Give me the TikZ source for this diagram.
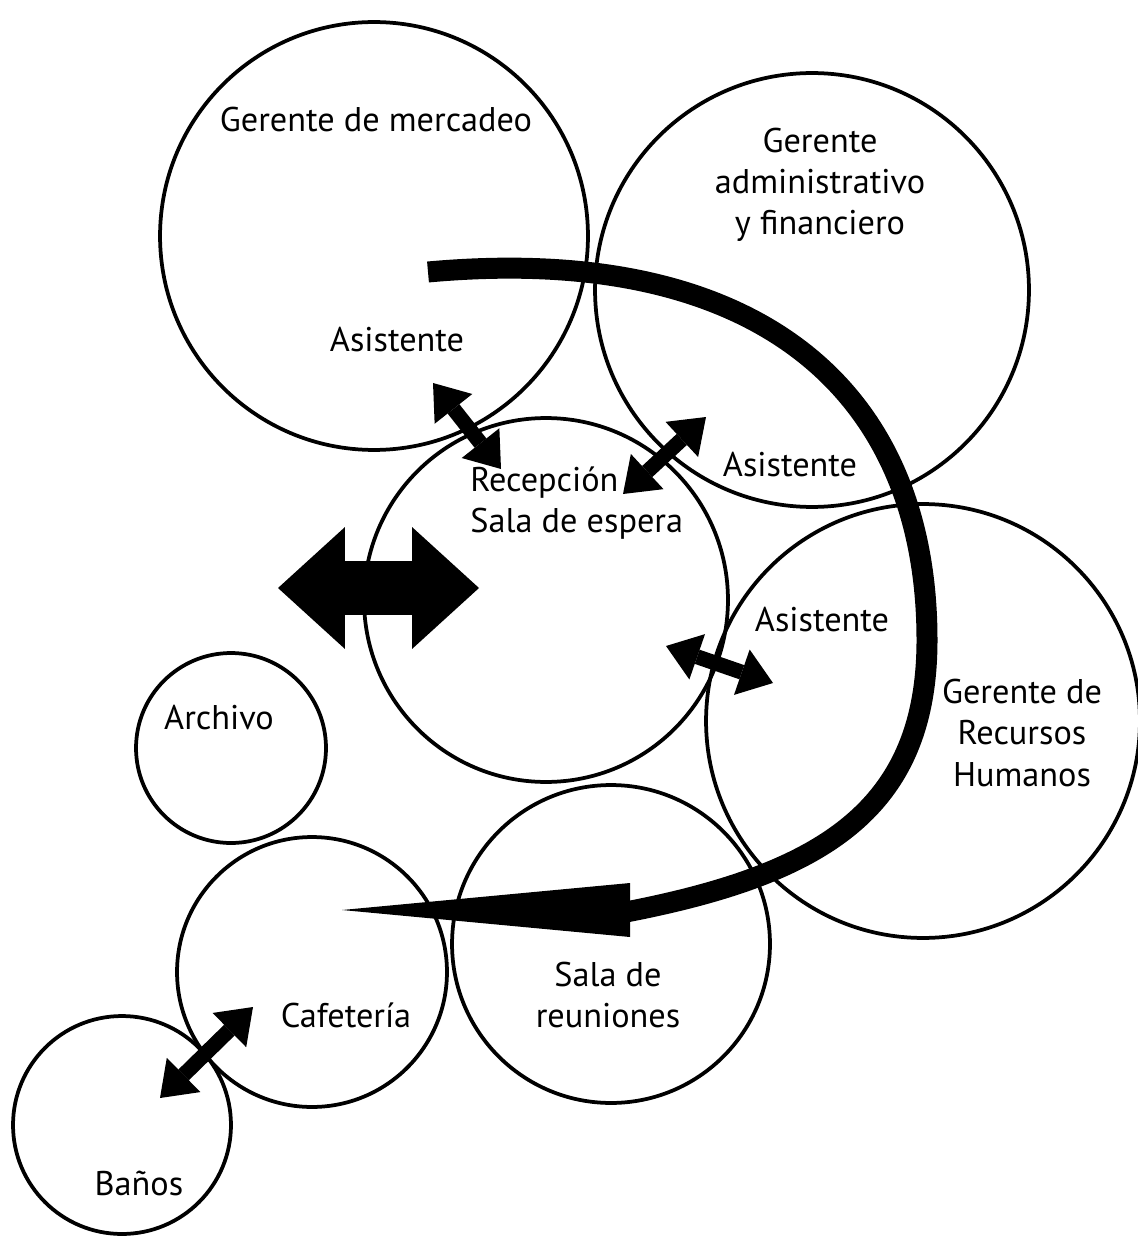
\documentclass[tikz,border=0pt]{standalone}
\usepackage{fontspec}
\setmainfont{PT Sans}
\usetikzlibrary{arrows.meta}
\tikzset{
  room/.style={draw, circle, inner sep=0pt, line width=0.075cm},
  roomtext/.style={font=\fontsize{19.5}{23.5}\selectfont, align=center, inner sep=0pt},
  link/.style={line width=0.3cm,
    {Triangle[length=0.66cm,width=0.96cm,line width=0pt]}-{Triangle[length=0.66cm,width=0.96cm,line width=0pt]}},
  biglink/.style={line width=1.1cm,
    {Triangle[length=1.34cm,width=2.44cm,line width=0pt]}-{Triangle[length=1.34cm,width=2.44cm,line width=0pt]}},
  flow/.style={line width=0.42cm}
}
\begin{document}
\begin{tikzpicture}[x=0.02cm, y=-0.02cm]
  \useasboundingbox (0,0) rectangle (1138,1236);
  \draw
    (374,236) node[room, minimum size=8.56cm] (mercadeo){}
    (812,290) node[room, minimum size=8.68cm] (admin){}
    (546,600) node[room, minimum size=7.28cm] (recepcion){}
    (923,721) node[room, minimum size=8.68cm] (rrhh){}
    (231,748) node[room, minimum size=3.8cm] (archivo){}
    (312,972) node[room, minimum size=5.4cm] (cafeteria){}
    (611,944) node[room, minimum size=6.36cm] (reuniones){}
    (122,1125) node[room, minimum size=4.36cm] (banos){};
  \draw
    (376,120) node[roomtext] (tMercadeo){Gerente de mercadeo}
    (820,185) node[roomtext] (tAdmin){Gerente\\administrativo\\y financiero}
    (397,340) node[roomtext] (tAsisMercadeo){Asistente}
    (790,465) node[roomtext] (tAsisAdmin){Asistente}
    (470,503) node[roomtext, anchor=west, align=left] (tRecepcion){Recepción\\Sala de espera}
    (822,620) node[roomtext] (tAsisRrhh){Asistente}
    (1022,733) node[roomtext] (tRrhh){Gerente de\\Recursos\\Humanos}
    (219,718) node[roomtext] (tArchivo){Archivo}
    (346,1015) node[roomtext] (tCafeteria){Cafetería}
    (608,995) node[roomtext] (tReuniones){Sala de\\reuniones}
    (139,1183) node[roomtext] (tBanos){Baños};
  \coordinate (m1) at (433,383);
  \coordinate (m2) at (501,469);
  \coordinate (g1) at (623,494);
  \coordinate (g2) at (706,417);
  \coordinate (h1) at (666,646);
  \coordinate (h2) at (773,683);
  \coordinate (b1) at (160,1098);
  \coordinate (b2) at (253,1007);
  \coordinate (w1) at (278,588);
  \coordinate (w2) at (479,588);
  \begin{scope}
    \draw[link] (m1) to (m2);
    \draw[link] (g1) to (g2);
    \draw[link] (h1) to (h2);
    \draw[link] (b1) to (b2);
    \draw[biglink] (w1) to (w2);
  \end{scope}
  \coordinate (flowStart) at (428,272);
  \coordinate (flowMid) at (927,640);
  \coordinate (flowEnd) at (626,912);
  \coordinate (flowTip) at (342,910);
  \coordinate (headTop) at (630,883);
  \coordinate (headBot) at (630,937);
  \draw[flow] (flowStart) .. controls (758,242) and (927,390) .. (flowMid)
    .. controls (927,810) and (822,874) .. (flowEnd);
  \fill (headTop) -- (flowTip) -- (headBot) -- cycle;
\end{tikzpicture}
\end{document}
